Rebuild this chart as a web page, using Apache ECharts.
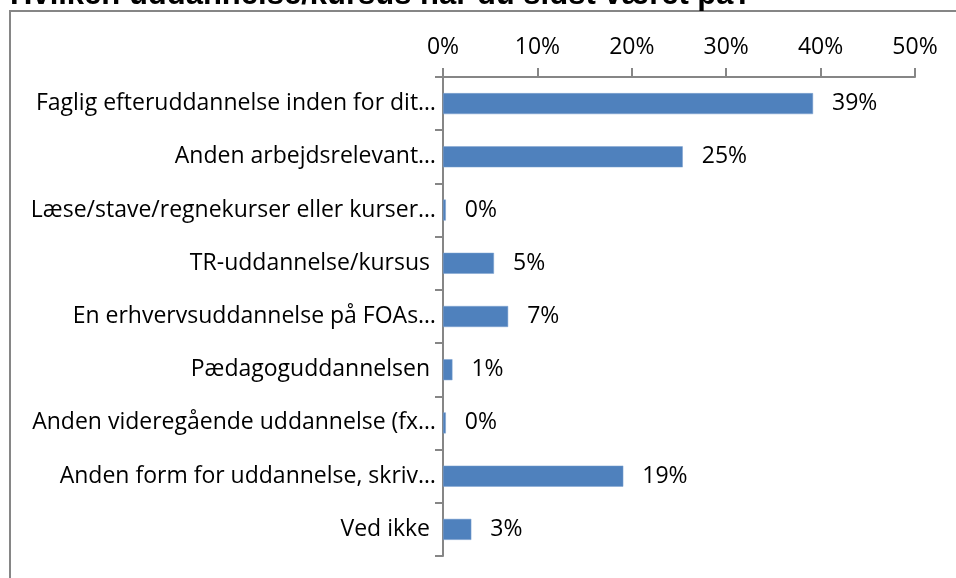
<!DOCTYPE html>
<html>
<head>
<meta charset="utf-8">
<script src="https://cdn.jsdelivr.net/npm/echarts@6/dist/echarts.min.js"></script>
<style>
html, body { margin: 0; padding: 0; background: #fff; }
#chart { width: 956px; height: 578px; }
</style>
</head>
<body>
<div id="chart"></div>
<script>
// kategorier (oppefra og ned)
var categories = [
    'Faglig efteruddannelse inden for dit…',
    'Anden arbejdsrelevant…',
    'Læse/stave/regnekurser eller kurser…',
    'TR-uddannelse/kursus ',
    'En erhvervsuddannelse på FOAs…',
    'Pædagoguddannelsen ',
    'Anden videregående uddannelse (fx…',
    'Anden form for uddannelse, skriv…',
    'Ved ikke '
];
var values = [39.2, 25.4, 0.3, 5.4, 6.9, 1.0, 0.3, 19.1, 3.0];
var tickLabels = ['0%', '10%', '20%', '30%', '40%', '50%'];

var myChart = echarts.init(document.getElementById('chart'));
var fontName = 'Open Sans';
var axisGrey = '#868686';

var option = {
    title: {
        text: 'Hvilken uddannelse/kursus har du sidst været på?',
        left: 10,
        top: -20,
        padding: 0,
        textStyle: { fontFamily: 'Liberation Sans', fontSize: 31, fontWeight: 'bold', color: '#000' }
    },
    graphic: [{
        type: 'rect',
        shape: { x: 10, y: 11, width: 960, height: 600 },
        style: { fill: 'none', stroke: axisGrey, lineWidth: 2 },
        z: -1
    }],
    grid: { left: 443, right: 41, top: 77, bottom: 22 },
    xAxis: {
        type: 'value',
        position: 'top',
        min: 0,
        max: 50,
        interval: 10,
        axisLine: { show: true, lineStyle: { color: axisGrey, width: 2 } },
        axisTick: { show: true, length: 9, lineStyle: { color: axisGrey, width: 2 } },
        splitLine: { show: false },
        axisLabel: {
            color: '#000',
            fontFamily: fontName,
            fontSize: 23,
            margin: 18,
            formatter: function (v) { return tickLabels[Math.round(v / 10)]; }
        }
    },
    yAxis: {
        type: 'category',
        inverse: true,
        data: categories,
        axisLine: { show: true, lineStyle: { color: axisGrey, width: 2 } },
        axisTick: { show: true, length: 8, lineStyle: { color: axisGrey, width: 2 } },
        axisLabel: { color: '#000', fontFamily: fontName, fontSize: 23, margin: 7 }
    },
    series: [{
        type: 'bar',
        data: values,
        barWidth: 21,
        itemStyle: { color: '#4f81bd', borderColor: '#7ea2d0', borderWidth: 0.5 },
        label: {
            show: true,
            position: 'right',
            distance: 19,
            color: '#000',
            fontFamily: fontName,
            fontSize: 23,
            formatter: function (p) { return Math.round(p.value) + '%'; }
        }
    }]
};
myChart.setOption(option);
</script>
</body>
</html>
